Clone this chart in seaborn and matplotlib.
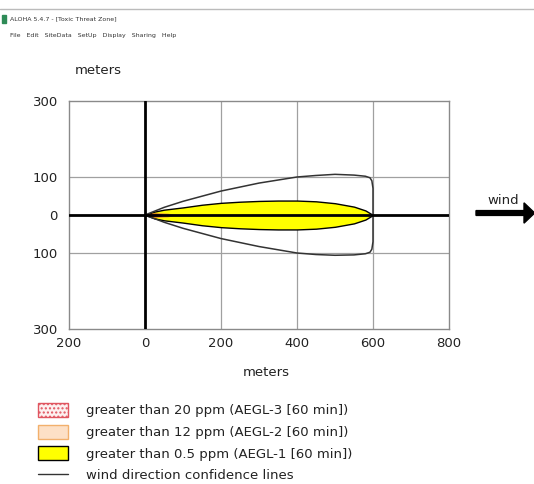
import numpy as np
import matplotlib
matplotlib.use("Agg")
import matplotlib.pyplot as plt
import matplotlib.patches as mpatches
from matplotlib.lines import Line2D
import seaborn as sns
import pandas as pd

# ── data (meters) ──
yellow_x = [0, 25, 50, 100, 150, 200, 250, 300, 350, 400, 450, 500, 550, 580, 600]
yellow_half = [0, 9, 14, 20, 27, 32, 35, 37, 38, 38, 36, 31, 22, 12, 0]

orange_x = [0, 20, 40, 60, 80]
orange_half = [0, 5, 6, 5, 0]

red_x = [0, 12, 25, 38, 50]
red_half = [0, 4, 5, 4, 0]

conf_x = [0, 50, 100, 200, 300, 400, 450, 500, 550, 580, 592, 597, 600, 600]
conf_upper = [0, 20, 36, 63, 84, 100, 104, 107, 105, 102, 98, 90, 70, 0]
conf_lower = [0, -19, -35, -62, -83, -100, -104, -106, -105, -102, -98, -90, -70, 0]

x_ticks = [-200, 0, 200, 400, 600, 800]
x_tick_labels = ["200", "0", "200", "400", "600", "800"]
y_ticks = [-300, -100, 0, 100, 300]
y_tick_labels = ["300", "100", "0", "100", "300"]

legend_labels = [
    "greater than 20 ppm (AEGL-3 [60 min])",
    "greater than 12 ppm (AEGL-2 [60 min])",
    "greater than 0.5 ppm (AEGL-1 [60 min])",
    "wind direction confidence lines",
]

sns.set_theme(style="white")
plt.rcParams['font.family'] = ['DejaVu Sans']
plt.rcParams['hatch.color'] = "#f3b8bb"
txt = "#222222"

fig = plt.figure(figsize=(5.34, 4.84), dpi=100)
ax = fig.add_axes([69 / 534, 155 / 484, 380 / 534, 228 / 484])

# grid lines
for gx in [200, 400, 600]:
    ax.axvline(gx, color="#a0a0a0", lw=0.9, zorder=1)
for gy in [-100, 100]:
    ax.axhline(gy, color="#a0a0a0", lw=0.9, zorder=1)

# threat zones
ax.fill_between(yellow_x, [-h for h in yellow_half], yellow_half,
                color="#ffff00", edgecolor="black", lw=1.0, zorder=3)
ax.fill_between(orange_x, [-h for h in orange_half], orange_half,
                color="#f08a3a", lw=0, alpha=0.85, zorder=4)
ax.fill_between(red_x, [-h for h in red_half], red_half,
                color="#a81010", lw=0, alpha=0.85, zorder=5)

# confidence lines (one closed outline)
conf = pd.DataFrame({
    "x": conf_x + conf_x[::-1],
    "y": conf_upper + conf_lower[::-1],
})
sns.lineplot(data=conf, x="x", y="y", sort=False, estimator=None,
             color="#333333", lw=1.1, ax=ax, zorder=6)

ax.axvline(0, color="black", lw=2.0, zorder=7)
ax.axhline(0, color="black", lw=2.0, zorder=7)

ax.set_xlim(-200, 800)
ax.set_ylim(-300, 300)
ax.set_xticks(x_ticks)
ax.set_xticklabels(x_tick_labels)
ax.set_yticks(y_ticks)
ax.set_yticklabels(y_tick_labels)
ax.tick_params(axis="x", labelsize=9.5, length=0, pad=6, colors=txt)
ax.tick_params(axis="y", labelsize=9.5, length=0, pad=8, colors=txt)
ax.set_xlabel("")
ax.set_ylabel("")
for s in ax.spines.values():
    s.set_color("#8a8a8a")
    s.set_linewidth(1.0)

fig.text(75 / 534, 1 - 70 / 484, "meters", fontsize=9.5, va="center", ha="left", color=txt)
fig.text(266 / 534, 1 - 373 / 484, "meters", fontsize=9.5, va="center", ha="center", color=txt)

# wind arrow
fig.text(503 / 534, 1 - 200 / 484, "wind", fontsize=9.5, va="center", ha="center", color=txt)
fig.add_artist(mpatches.FancyArrow(476 / 534, 1 - 213 / 484, 48 / 534, 0,
                                   width=0.01, head_width=0.042, head_length=0.02,
                                   color="black", transform=fig.transFigure))

# window title bar + menu
fig.add_artist(Line2D([0, 1], [1 - 9 / 484, 1 - 9 / 484], color="#bbbbbb", lw=1,
                      transform=fig.transFigure))
fig.add_artist(mpatches.Rectangle((2 / 534, 1 - 23 / 484), 4 / 534, 8 / 484,
                                  color="#2e8b57", transform=fig.transFigure))
fig.text(10 / 534, 1 - 19 / 484, "ALOHA 5.4.7 - [Toxic Threat Zone]", fontsize=4.5,
         va="center", ha="left", color="#333333")
fig.text(10 / 534, 1 - 35 / 484, "File   Edit   SiteData   SetUp   Display   Sharing   Help",
         fontsize=4.5, va="center", ha="left", color="#333333")

# legend
handles = [
    mpatches.Patch(facecolor="#fdf0f0", edgecolor="#e05560", lw=1.0, hatch="....",
                   label=legend_labels[0]),
    mpatches.Patch(facecolor="#fde0c6", edgecolor="#f2b06c", lw=1.0, label=legend_labels[1]),
    mpatches.Patch(facecolor="#ffff00", edgecolor="black", lw=1.0, label=legend_labels[2]),
    Line2D([0], [0], color="#333333", lw=1.0, label=legend_labels[3]),
]
leg = fig.legend(handles=handles, loc="upper left", bbox_to_anchor=(38 / 534, 1 - 403 / 484),
                 frameon=False, fontsize=9.5, handlelength=2.3, handleheight=1.25,
                 handletextpad=1.3, labelspacing=0.55, borderpad=0, borderaxespad=0)
for t in leg.get_texts():
    t.set_color(txt)

fig.savefig("out.png", dpi=100)
